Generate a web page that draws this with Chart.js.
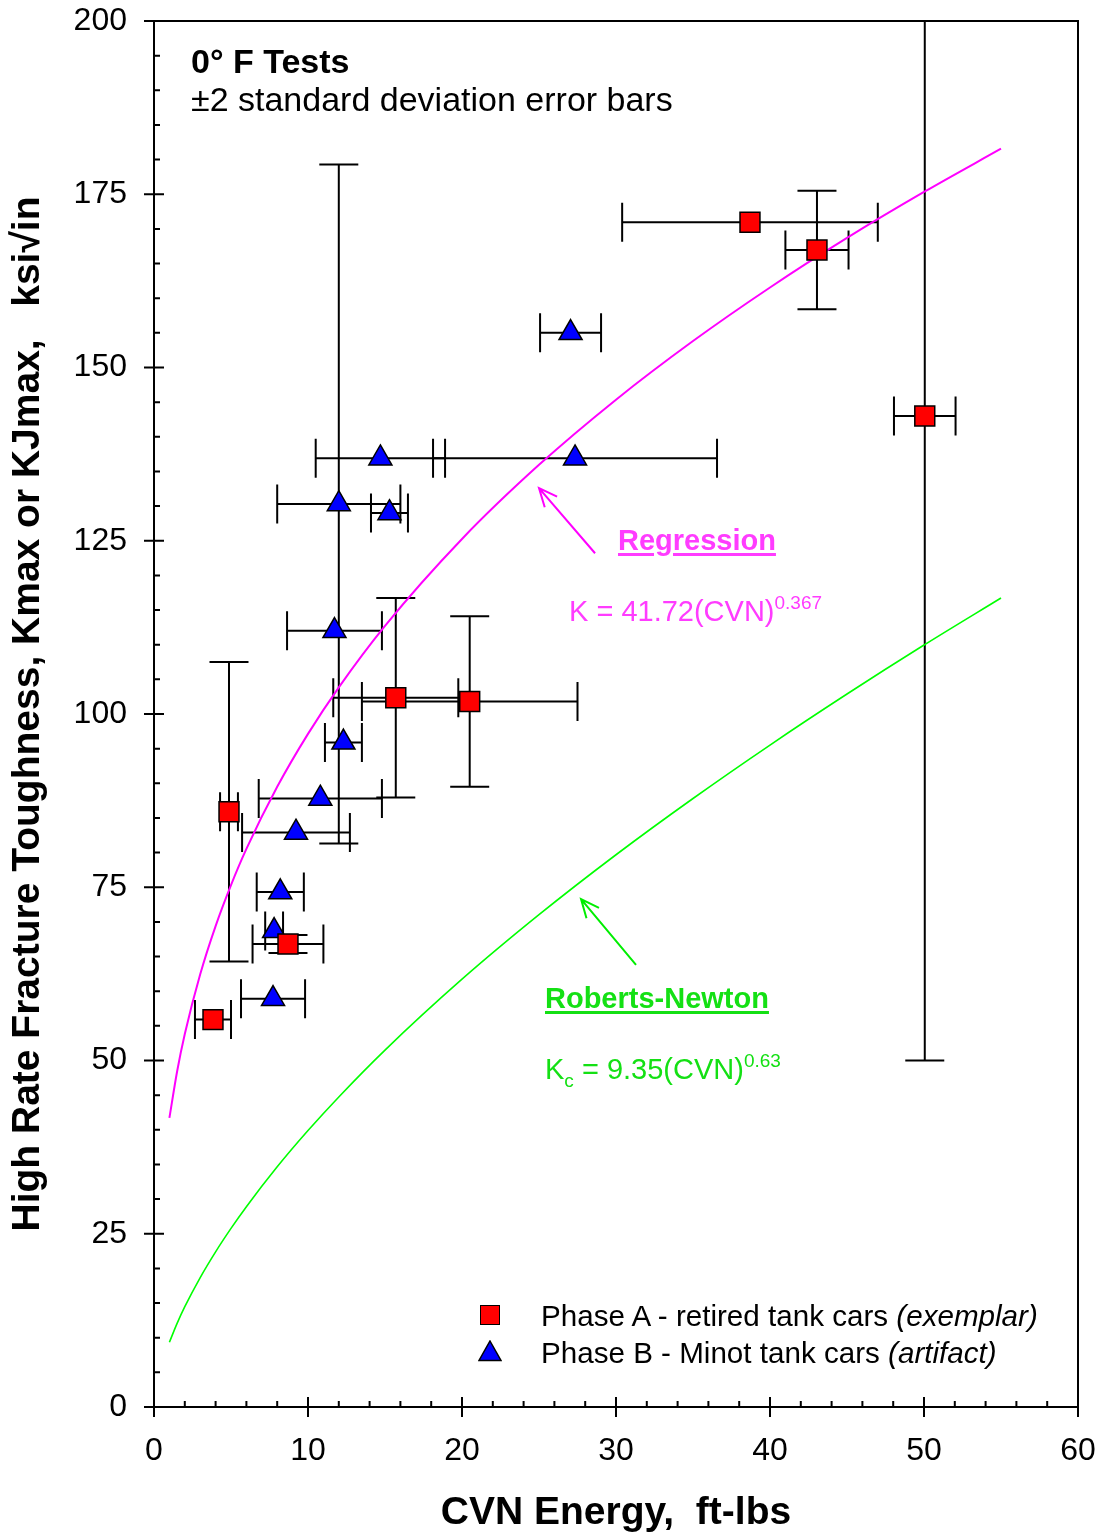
<!DOCTYPE html>
<html>
<head>
<meta charset="utf-8">
<script src="https://cdn.jsdelivr.net/npm/chart.js@4.4.1/dist/chart.umd.min.js"></script>
<style>
  body { margin: 0; background: #fff; }
  #wrap { position: relative; width: 1104px; height: 1538px; font-family: "Liberation Sans", Arial, sans-serif; color: #000; }
  #wrap canvas { position: absolute; left: 0; top: 0; }
  .note { position: absolute; white-space: nowrap; line-height: 1; }
  .sup { position: relative; top: -12px; font-size: 19px; }
  .sub { position: relative; top: 8px; font-size: 19px; }
  .reg { color: #ff3cff; }
  .rn { color: #14e014; }
  .head { font-weight: bold; text-decoration: underline; text-decoration-thickness: 3px; text-underline-offset: 3px; }
  .key { position: absolute; }
</style>
</head>
<body>
<div id="wrap">
  <canvas id="chart" width="1104" height="1538"></canvas>

  <div class="note" style="left:191px; top:44px; font-size:34px; font-weight:bold;">0° F Tests</div>
  <div class="note" style="left:191px; top:82px; font-size:34px;">±2 standard deviation error bars</div>

  <div class="note reg head" style="left:618px; top:526px; font-size:29px;">Regression</div>
  <div class="note reg" style="left:569px; top:597px; font-size:29px;">K = 41.72(CVN)<span class="sup">0.367</span></div>

  <div class="note rn head" style="left:545px; top:984px; font-size:29px;">Roberts-Newton</div>
  <div class="note rn" style="left:545px; top:1055px; font-size:29px;">K<span class="sub">c</span> = 9.35(CVN)<span class="sup">0.63</span></div>

  <div class="key" style="left:480px; top:1305px; width:20px; height:20px; box-sizing:border-box; background:#ff0000; border:1.5px solid #000;"></div>
  <svg class="key" style="left:478px; top:1340px;" width="24" height="22"><polygon points="12,1 23,20.5 1,20.5" fill="#0000ff" stroke="#000" stroke-width="1.5"/></svg>
  <div class="note" style="left:541px; top:1301px; font-size:29.6px;">Phase A - retired tank cars <i>(exemplar)</i></div>
  <div class="note" style="left:541px; top:1338px; font-size:29.6px;">Phase B - Minot tank cars <i>(artifact)</i></div>
</div>

<script>
// Phase A - retired tank cars (red squares)
const phaseAx    = [38.7, 43.05, 50.05, 15.7, 20.5, 4.87, 8.7, 3.83];
const phaseAy    = [170.95, 166.95, 143.0, 102.35, 101.8, 85.9, 66.8, 55.9];
const phaseAxErr = [8.3, 2.05, 2.0, 4.06, 7.0, 0.58, 2.3, 1.17];
const phaseAyErr = [0, 8.55, 93.0, 14.4, 12.3, 21.6, 1.3, 0];

// Phase B - Minot tank cars (blue triangles)
const phaseBx    = [27.05, 14.7, 27.34, 12.0, 15.29, 11.72, 12.3, 10.8, 9.22, 8.2, 7.8, 7.73];
const phaseBy    = [155.0, 136.9, 136.9, 130.3, 129.0, 112.0, 95.9, 87.8, 82.9, 74.3, 68.7, 58.9];
const phaseBxErr = [1.98, 4.2, 9.22, 4.0, 1.2, 3.08, 1.2, 4.0, 3.5, 1.53, 0.58, 2.08];
const phaseByErr = [0, 0, 0, 49.0, 0, 0, 0, 0, 0, 0, 0, 0];

// fitted curves
const curveX        = [1, 1.5, 2, 3, 4, 5, 6, 8, 10, 12, 15, 20, 25, 30, 35, 40, 45, 50, 55];
const regressionK   = [41.72, 48.42, 53.81, 62.44, 69.40, 75.31, 80.53, 89.49, 97.13, 103.85, 112.72, 125.26, 135.95, 145.36, 153.82, 161.55, 168.70, 175.33, 181.57];
const robertsNewton = [9.35, 12.07, 14.47, 18.68, 22.39, 25.77, 28.91, 34.66, 39.89, 44.74, 51.50, 61.73, 71.04, 79.69, 87.81, 95.52, 102.88, 109.95, 116.74];

// annotation arrows [tailX, tailY, headX, headY]
const regressionArrow = [28.64, 123.2, 25.0, 132.6];
const robertsArrow    = [31.3, 63.8, 27.73, 73.3];

const xTicks = [0, 10, 20, 30, 40, 50, 60];
const yTicks = [0, 25, 50, 75, 100, 125, 150, 175, 200];

const FONT = '"Liberation Sans", Arial, sans-serif';
Chart.defaults.font.family = FONT;
Chart.defaults.color = '#000';

const toPoints = (xs, ys) => xs.map((x, i) => ({x: x, y: ys[i]}));

const errorBars = {
  id: 'errorBars',
  beforeDatasetsDraw(chart) {
    const {ctx, chartArea: a, scales: {x, y}} = chart;
    const cap = 19.5;
    ctx.save();
    ctx.beginPath();
    ctx.rect(a.left, a.top, a.right - a.left, a.bottom - a.top);
    ctx.clip();
    ctx.strokeStyle = '#000';
    ctx.lineWidth = 2;
    chart.data.datasets.forEach(ds => {
      if (!ds.xErr) return;
      ds.data.forEach((p, i) => {
        const px = x.getPixelForValue(p.x), py = y.getPixelForValue(p.y);
        ctx.beginPath();
        if (ds.xErr[i] > 0) {
          const l = x.getPixelForValue(p.x - ds.xErr[i]), r = x.getPixelForValue(p.x + ds.xErr[i]);
          ctx.moveTo(l, py); ctx.lineTo(r, py);
          ctx.moveTo(l, py - cap); ctx.lineTo(l, py + cap);
          ctx.moveTo(r, py - cap); ctx.lineTo(r, py + cap);
        }
        if (ds.yErr[i] > 0) {
          const t = y.getPixelForValue(p.y + ds.yErr[i]), b = y.getPixelForValue(p.y - ds.yErr[i]);
          ctx.moveTo(px, t); ctx.lineTo(px, b);
          ctx.moveTo(px - cap, t); ctx.lineTo(px + cap, t);
          ctx.moveTo(px - cap, b); ctx.lineTo(px + cap, b);
        }
        ctx.stroke();
      });
    });
    ctx.restore();
  }
};

function drawArrow(ctx, x, y, arr, color) {
  const tx = x.getPixelForValue(arr[0]), ty = y.getPixelForValue(arr[1]);
  const hx = x.getPixelForValue(arr[2]), hy = y.getPixelForValue(arr[3]);
  const ang = Math.atan2(ty - hy, tx - hx);
  const len = 20, spread = 0.42;
  ctx.strokeStyle = color;
  ctx.lineWidth = 2;
  ctx.beginPath();
  ctx.moveTo(tx, ty); ctx.lineTo(hx, hy);
  ctx.moveTo(hx + len * Math.cos(ang - spread), hy + len * Math.sin(ang - spread));
  ctx.lineTo(hx, hy);
  ctx.lineTo(hx + len * Math.cos(ang + spread), hy + len * Math.sin(ang + spread));
  ctx.stroke();
}

const frameAndTicks = {
  id: 'frameAndTicks',
  afterDatasetsDraw(chart) {
    const {ctx, chartArea: a, scales: {x, y}} = chart;
    ctx.save();
    drawArrow(ctx, x, y, regressionArrow, '#ff00ff');
    drawArrow(ctx, x, y, robertsArrow, '#00ee00');

    ctx.strokeStyle = '#000';
    ctx.lineWidth = 2;
    ctx.beginPath();
    ctx.rect(a.left, a.top, a.right - a.left, a.bottom - a.top);
    // y ticks: major crossing the axis, minor inside
    for (let v = 0; v <= 200; v += 5) {
      const py = y.getPixelForValue(v);
      if (v % 25 === 0) { ctx.moveTo(a.left - 10, py); ctx.lineTo(a.left + 10, py); }
      else { ctx.moveTo(a.left, py); ctx.lineTo(a.left + 6, py); }
    }
    for (let v = 0; v <= 60; v += 2) {
      const px = x.getPixelForValue(v);
      if (v % 10 === 0) { ctx.moveTo(px, a.bottom - 10); ctx.lineTo(px, a.bottom + 10); }
      else { ctx.moveTo(px, a.bottom - 6); ctx.lineTo(px, a.bottom); }
    }
    ctx.stroke();
    ctx.restore();
  }
};

new Chart(document.getElementById('chart'), {
  type: 'scatter',
  data: {
    datasets: [
      {
        label: 'Phase A - retired tank cars (exemplar)',
        data: toPoints(phaseAx, phaseAy),
        xErr: phaseAxErr, yErr: phaseAyErr,
        pointStyle: 'rect', pointRadius: 14.1,
        backgroundColor: '#ff0000', borderColor: '#000', borderWidth: 1.5,
        order: 1
      },
      {
        label: 'Phase B - Minot tank cars (artifact)',
        data: toPoints(phaseBx, phaseBy),
        xErr: phaseBxErr, yErr: phaseByErr,
        pointStyle: 'triangle', pointRadius: 13.3,
        backgroundColor: '#0000ff', borderColor: '#000', borderWidth: 1.5,
        order: 1
      },
      {
        label: 'Regression',
        data: toPoints(curveX, regressionK),
        showLine: true, pointRadius: 0,
        borderColor: '#ff00ff', borderWidth: 2,
        cubicInterpolationMode: 'monotone',
        order: 2
      },
      {
        label: 'Roberts-Newton',
        data: toPoints(curveX, robertsNewton),
        showLine: true, pointRadius: 0,
        borderColor: '#00ff00', borderWidth: 1.6,
        cubicInterpolationMode: 'monotone',
        order: 2
      }
    ]
  },
  options: {
    responsive: false,
    animation: false,
    events: [],
    layout: { padding: { top: 21, right: 26, left: 0, bottom: 0 } },
    plugins: { legend: { display: false }, tooltip: { enabled: false } },
    scales: {
      x: {
        type: 'linear', min: 0, max: 60,
        afterBuildTicks: s => { s.ticks = xTicks.map(v => ({value: v})); },
        afterFit: s => { s.height = 131; s.paddingLeft = 0; s.paddingRight = 0; },
        ticks: { padding: 25, maxRotation: 0, font: { size: 32 } },
        grid: { display: false, drawTicks: false },
        border: { display: false },
        title: { display: true, text: 'CVN Energy,  ft-lbs', font: { size: 39, weight: 'bold' }, padding: { top: 0, bottom: 1 } }
      },
      y: {
        type: 'linear', min: 0, max: 200,
        afterBuildTicks: s => { s.ticks = yTicks.map(v => ({value: v})); },
        afterFit: s => { s.width = 154; s.paddingTop = 0; s.paddingBottom = 0; },
        ticks: { padding: 27, font: { size: 32 } },
        grid: { display: false, drawTicks: false },
        border: { display: false },
        title: { display: true, text: 'High Rate Fracture Toughness, Kmax or KJmax,   ksi√in', font: { size: 39, weight: 'bold' }, padding: { top: 5, bottom: 0 } }
      }
    }
  },
  plugins: [errorBars, frameAndTicks]
});
</script>
</body>
</html>
